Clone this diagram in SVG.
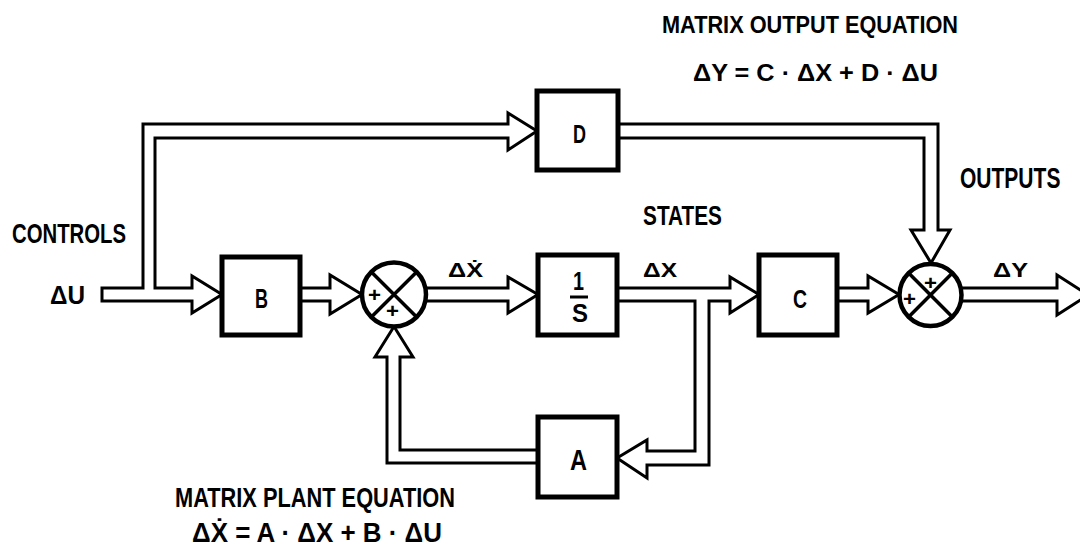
<svg xmlns="http://www.w3.org/2000/svg" width="1080" height="555" viewBox="0 0 1080 555">
<style>
.bg{fill:#fff}
.box{fill:#fff;stroke:#000;stroke-width:5}
.sum{fill:#fff;stroke:#000;stroke-width:4.5}
.x{stroke:#000;stroke-width:3.5;fill:none}
.conn{fill:#fff;stroke:#000;stroke-width:3;stroke-linejoin:miter}
text{font-family:"Liberation Sans",Arial,sans-serif;font-weight:bold;fill:#000}
</style>
<rect class="bg" x="0" y="0" width="1080" height="555"/>
<g id="connectors">
<path class="conn" d="M102,288 H143 V124 H508 V113 L537,131 L508,150 V138 H155 V288 H192 V276 L222,294.5 L192,313 V301 H102 Z"/>
<path class="conn" d="M300,288 H330 V275 L362,294.5 L330,314 V301 H300"/>
<path class="conn" d="M426,288 H508 V277 L538,294.5 L508,313 V301 H426"/>
<path class="conn" d="M617,288 H730 V277 L759,294.5 L730,313 V301 H709 V465 H647 V478 L617,458 L647,440 V451 H695 V301 H617"/>
<path class="conn" d="M538,450 H400 V357 H413 L394,326.5 L375,357 H387 V463 H538"/>
<path class="conn" d="M837,288 H868 V276 L899,294.5 L868,313 V301 H837"/>
<path class="conn" d="M618,124 H938 V230 H950 L931,263 L911,230 H924 V138 H618"/>
<path class="conn" d="M962,288 H1057 V275 L1088,295 L1057,315 V301 H962"/>
</g>
<g id="node-B">
<rect class="box" x="222" y="257" width="78" height="78"/>
<text x="255" y="308" font-size="27" textLength="13" lengthAdjust="spacingAndGlyphs">B</text>
</g>
<g id="node-sum1">
<circle class="sum" cx="394" cy="294.5" r="32"/>
<path class="x" d="M371.4,271.9 L416.6,317.1 M416.6,271.9 L371.4,317.1"/>
<text x="368" y="302" font-size="21" textLength="13" lengthAdjust="spacingAndGlyphs">+</text>
<text x="386" y="318" font-size="21" textLength="13" lengthAdjust="spacingAndGlyphs">+</text>
</g>
<g id="node-integrator">
<rect class="box" x="538" y="255" width="79" height="80"/>
<text x="573" y="290" font-size="25" textLength="11" lengthAdjust="spacingAndGlyphs">1</text>
<line x1="570" y1="297" x2="588" y2="297" stroke="#000" stroke-width="3"/>
<text x="572" y="322" font-size="26" textLength="16" lengthAdjust="spacingAndGlyphs">S</text>
</g>
<g id="node-C">
<rect class="box" x="759" y="255" width="78" height="80"/>
<text x="793" y="308" font-size="25" textLength="14" lengthAdjust="spacingAndGlyphs">C</text>
</g>
<g id="node-D">
<rect class="box" x="537" y="91" width="81" height="79"/>
<text x="573" y="143" font-size="25" textLength="13" lengthAdjust="spacingAndGlyphs">D</text>
</g>
<g id="node-A">
<rect class="box" x="538" y="417" width="79" height="80"/>
<text x="570" y="470" font-size="29" textLength="17" lengthAdjust="spacingAndGlyphs">A</text>
</g>
<g id="node-sum2">
<circle class="sum" cx="930.5" cy="295" r="31"/>
<path class="x" d="M908.6,273.1 L952.4,316.9 M952.4,273.1 L908.6,316.9"/>
<text x="903" y="306" font-size="21" textLength="13" lengthAdjust="spacingAndGlyphs">+</text>
<text x="924" y="290" font-size="21" textLength="13" lengthAdjust="spacingAndGlyphs">+</text>
</g>
<g id="labels">
<text x="12" y="243" font-size="28" textLength="114" lengthAdjust="spacingAndGlyphs">CONTROLS</text>
<text x="50" y="304" font-size="26" textLength="35" lengthAdjust="spacingAndGlyphs">ΔU</text>
<text x="643" y="225" font-size="27" textLength="79" lengthAdjust="spacingAndGlyphs">STATES</text>
<text transform="translate(960,188) scale(0.725,1)" x="0" y="0" font-size="29">OUTPUTS</text>
<text x="448" y="277" font-size="21" textLength="35" lengthAdjust="spacingAndGlyphs">ΔẊ</text>
<text x="643" y="277" font-size="21" textLength="34" lengthAdjust="spacingAndGlyphs">ΔX</text>
<text x="993" y="277" font-size="21" textLength="35" lengthAdjust="spacingAndGlyphs">ΔY</text>
<text x="662" y="33" font-size="24" textLength="296" lengthAdjust="spacingAndGlyphs">MATRIX OUTPUT EQUATION</text>
<text x="693" y="81" font-size="24" textLength="245" lengthAdjust="spacingAndGlyphs">ΔY = C · ΔX + D · ΔU</text>
<text x="175" y="507" font-size="27" textLength="280" lengthAdjust="spacingAndGlyphs">MATRIX PLANT EQUATION</text>
<text x="192" y="542" font-size="27" textLength="250" lengthAdjust="spacingAndGlyphs">ΔẊ = A · ΔX + B · ΔU</text>
</g>
</svg>
